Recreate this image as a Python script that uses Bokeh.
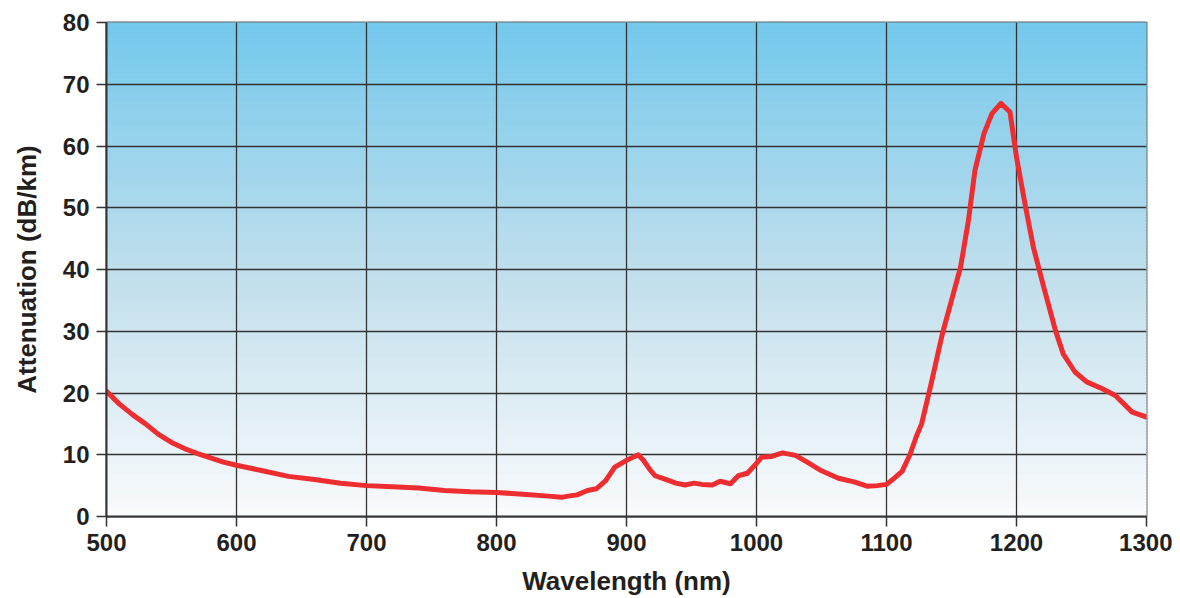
import numpy as np
from bokeh.plotting import figure
from bokeh.models import Range1d, FixedTicker, ColumnDataSource
from bokeh.embed import file_html
from bokeh.resources import INLINE

wavelength = [500, 510, 520, 530, 540, 550, 560, 570, 580, 590, 600, 620, 640, 660, 680,
              700, 720, 740, 760, 780, 800, 820, 840, 850, 855, 862, 870, 877, 884, 891,
              900, 905, 909, 913, 918, 922, 930, 938, 945, 952, 958, 966, 972, 980, 986,
              993, 1000, 1004, 1011, 1020, 1030, 1039, 1050, 1063, 1075, 1085, 1093, 1100,
              1106, 1112, 1118, 1123, 1127, 1134, 1143, 1150, 1157, 1163, 1168, 1175, 1181,
              1188, 1195, 1200, 1207, 1213, 1221, 1230, 1236, 1245, 1254, 1266, 1276, 1289, 1300]
attenuation = [20.3, 18.2, 16.5, 15.0, 13.3, 12.0, 11.0, 10.2, 9.5, 8.8, 8.3, 7.4, 6.5, 6.0, 5.4,
               5.0, 4.8, 4.6, 4.2, 4.0, 3.9, 3.6, 3.3, 3.1, 3.3, 3.5, 4.2, 4.5, 5.8, 8.0,
               9.1, 9.6, 10.0, 9.1, 7.6, 6.6, 6.0, 5.4, 5.1, 5.4, 5.2, 5.1, 5.7, 5.3, 6.6,
               7.0, 8.6, 9.6, 9.7, 10.3, 9.9, 8.8, 7.4, 6.2, 5.6, 4.9, 5.0, 5.2,
               6.2, 7.3, 10.0, 13.0, 15.0, 21.2, 29.6, 35.0, 40.4, 47.9, 56.0, 62.0, 65.2,
               66.9, 65.5, 58.2, 50.1, 43.6, 37.1, 30.1, 26.3, 23.4, 21.8, 20.7, 19.6, 16.9, 16.1]
x_ticks = [500, 600, 700, 800, 900, 1000, 1100, 1200, 1300]
y_ticks = [0, 10, 20, 30, 40, 50, 60, 70, 80]

XMIN, XMAX, YMIN, YMAX = 500, 1300, 0, 80

p = figure(output_backend="svg", toolbar_location=None,
           frame_width=1040, frame_height=494,
           min_border_left=106, min_border_right=26, min_border_top=22, min_border_bottom=74,
           x_range=Range1d(XMIN, XMAX), y_range=Range1d(YMIN, YMAX),
           background_fill_color="white", border_fill_color="white")

# gradient background strips
n = 160
edges = np.linspace(YMIN, YMAX, n + 1)
t = (edges[:-1] + edges[1:]) / 2 / YMAX  # 0 bottom, 1 top
bottom_c = np.array([250, 251, 253])
mid_c = np.array([192, 223, 236])
top_c = np.array([116, 201, 237])
cols = []
for tv in t:
    if tv < 0.5:
        c = bottom_c + (mid_c - bottom_c) * (tv / 0.5)
    else:
        c = mid_c + (top_c - mid_c) * ((tv - 0.5) / 0.5)
    c = c.astype(int)
    cols.append("#%02x%02x%02x" % tuple(c))
bg = ColumnDataSource(dict(bottom=edges[:-1], top=edges[1:] + (YMAX - YMIN) / n * 0.3, color=cols))
r = p.quad(left=XMIN, right=XMAX, bottom="bottom", top="top", fill_color="color",
           line_color="color", line_width=0.5, source=bg)
r.level = "image"

src = ColumnDataSource(dict(x=wavelength, y=attenuation))
p.line("x", "y", source=src, line_color="#ee2d31", line_width=5, line_join="round", line_cap="round")

p.xaxis.ticker = FixedTicker(ticks=x_ticks)
p.yaxis.ticker = FixedTicker(ticks=y_ticks)
for g in (p.xgrid, p.ygrid):
    g.grid_line_color = "#333333"
    g.grid_line_width = 1.3
p.xgrid.ticker = FixedTicker(ticks=x_ticks)
p.ygrid.ticker = FixedTicker(ticks=y_ticks)

for ax in (p.xaxis, p.yaxis):
    ax.axis_line_color = "#333333"
    ax.axis_line_width = 2
    ax.major_tick_line_color = "#333333"
    ax.major_tick_line_width = 1.5
    ax.major_tick_out = 10
    ax.major_tick_in = 0
    ax.minor_tick_line_color = None
    ax.major_label_text_font = "Liberation Sans"
    ax.major_label_text_font_style = "bold"
    ax.major_label_text_font_size = "24px"
    ax.major_label_text_color = "#231f20"
    ax.axis_label_text_font = "Liberation Sans"
    ax.axis_label_text_font_style = "bold"
    ax.axis_label_text_font_size = "26px"
    ax.axis_label_text_color = "#231f20"
    ax.major_label_standoff = 7

p.xaxis.axis_label = "Wavelength (nm)"
p.yaxis.axis_label = "Attenuation (dB/km)"
p.xaxis.axis_label_standoff = 12
p.yaxis.axis_label_standoff = 18

p.outline_line_color = "#666666"
p.outline_line_width = 2

open("out.html", "w").write(file_html(p, INLINE))
